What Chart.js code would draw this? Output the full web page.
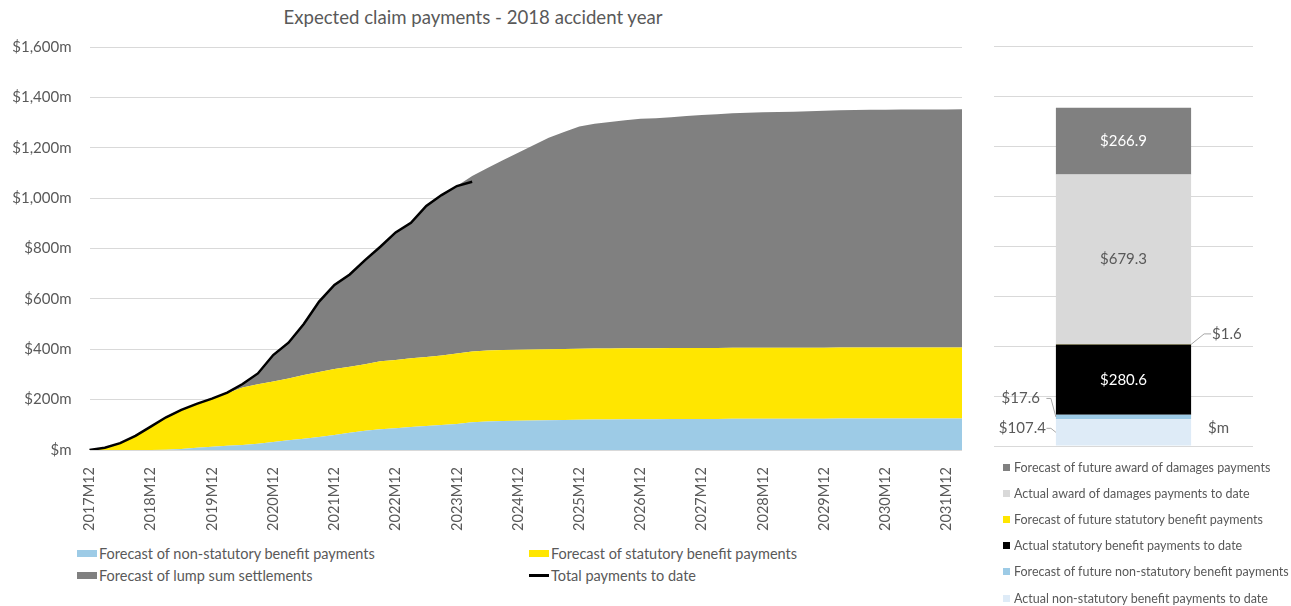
<!DOCTYPE html>
<html><head><meta charset="utf-8">
<script src="https://cdn.jsdelivr.net/npm/chart.js@4.4.1/dist/chart.umd.min.js"></script>
<style>
html,body{margin:0;padding:0;background:#fff;width:1291px;height:606px;overflow:hidden;font-family:Lato,"Noto Sans",sans-serif;color:#595959}
#title{position:absolute;left:0;width:946px;top:6px;text-align:center;font-size:18.6px;line-height:22px}
#left{position:absolute;left:0;top:0}
#right{position:absolute;left:980px;top:0}
#legL{position:absolute;left:77px;top:542px;display:grid;grid-template-columns:452px 400px;font-size:14.5px}
.li{display:flex;align-items:center;height:22px;white-space:nowrap}
.sw{width:20px;height:7px;margin-right:2px;flex:none}
.ln{width:20px;height:3px;margin-right:2px;flex:none}
#legR{position:absolute;left:1003px;top:454px;font-size:12.5px}
.ri{display:flex;align-items:center;height:26.2px;white-space:nowrap}
.sq{width:7px;height:7px;margin-right:4px;flex:none}
</style></head>
<body>
<div id="title">Expected claim payments - 2018 accident year</div>
<canvas id="left" width="980" height="540"></canvas>
<canvas id="right" width="311" height="460"></canvas>
<div id="legL"></div>
<div id="legR"></div>
<script>
// ---- Data ----
const quarters = ["2017M12","2018M03","2018M06","2018M09","2018M12","2019M03","2019M06","2019M09","2019M12",
"2020M03","2020M06","2020M09","2020M12","2021M03","2021M06","2021M09","2021M12","2022M03","2022M06","2022M09","2022M12",
"2023M03","2023M06","2023M09","2023M12","2024M03","2024M06","2024M09","2024M12","2025M03","2025M06","2025M09","2025M12",
"2026M03","2026M06","2026M09","2026M12","2027M03","2027M06","2027M09","2027M12","2028M03","2028M06","2028M09","2028M12",
"2029M03","2029M06","2029M09","2029M12","2030M03","2030M06","2030M09","2030M12","2031M03","2031M06","2031M09","2031M12","2032M03"];

const nonStatutory = [0,0,0,0,0,1,4,9,13,17, 20,25,32,39,45,52,60,68,76,82, 86,91,95,99,103,110,113,115,116,117,
 118,119,120,121,121,122,122,122,123,123, 123,123,124,124,124,124,124,124,124,125, 125,125,125,125,125,125,125,125];
const statutory = [0,9,27,56,93,129,155,174,191,208, 228,236,240,245,253,258,262,263,264,270, 271,273,274,276,280,281,282,282,282,282,
 282,282,282,282,282,282,282,282,282,282, 282,282,282,282,282,282,282,282,282,282, 282,282,282,282,282,282,282,282];
const lumpSum = [0,0,0,0,0,0,0,0,0,3, 14,43,105,142,202,279,333,366,414,455, 507,538,600,637,665,697,725,753,782,811,
 840,862,882,892,899,905,911,913,916,921, 925,928,931,933,935,936,937,939,941,942, 943,944,944,945,945,945,945,946];
const totalToDate = [0,9,27,56,93,130,159,183,204,228,262,304,377,426,500,589,655,697,754,807,864,902,969,1012,1048,1065];

const yTicks = [0,200,400,600,800,1000,1200,1400,1600];

const barLabels = ["Actual non-statutory benefit payments to date","Forecast of future non-statutory benefit payments",
 "Actual statutory benefit payments to date","Forecast of future statutory benefit payments",
 "Actual award of damages payments to date","Forecast of future award of damages payments"];
const barValues = [107.4, 17.6, 280.6, 1.6, 679.3, 266.9];
const barUnit = "$m";

// ---- Styles ----
const TXT = '#595959', GRID = '#d9d9d9';
const FONT = 'Lato, "Noto Sans", sans-serif';
const C_BLUE = '#9dcbe6', C_YEL = '#ffe600', C_GRAY = '#808080';
const barColors = ['#deebf7', C_BLUE, '#000000', C_YEL, '#d9d9d9', C_GRAY];
const barLabelMode = ['left', 'left', 'inside', 'right', 'inside', 'inside'];
const barLabelColor = [TXT, TXT, '#ffffff', TXT, TXT, '#ffffff'];

const fmtM = v => v === 0 ? '$m' : '$' + v.toLocaleString('en-US') + 'm';

// ---- Left chart ----
const leftChart = new Chart(document.getElementById('left'), {
  type: 'line',
  data: {
    labels: quarters,
    datasets: [
      {label:'Forecast of non-statutory benefit payments', data:nonStatutory, backgroundColor:C_BLUE, borderColor:C_BLUE, borderWidth:0, fill:'origin', pointRadius:0, tension:0, yAxisID:'y'},
      {label:'Forecast of statutory benefit payments', data:statutory, backgroundColor:C_YEL, borderColor:C_YEL, borderWidth:0, fill:'-1', pointRadius:0, tension:0, yAxisID:'y'},
      {label:'Forecast of lump sum settlements', data:lumpSum, backgroundColor:C_GRAY, borderColor:C_GRAY, borderWidth:0, fill:'-1', pointRadius:0, tension:0, yAxisID:'y'},
      {label:'Total payments to date', data:totalToDate, borderColor:'#000', backgroundColor:'#000', borderWidth:2.5, fill:false, pointRadius:0, tension:0, yAxisID:'y2', order:-1, isLine:true}
    ]
  },
  options: {
    responsive:false, animation:false, devicePixelRatio:1,
    layout:{padding:{top:47, right:18, left:0, bottom:0}},
    plugins:{legend:{display:false}, tooltip:{enabled:false}, title:{display:false}},
    scales:{
      x:{type:'category', offset:false, grid:{display:false}, border:{display:false},
         ticks:{autoSkip:false, maxRotation:90, minRotation:90, padding:9, color:TXT, font:{family:FONT, size:14.5},
           callback:function(v, i){ return i % 4 === 0 ? this.getLabelForValue(v) : null; }},
         afterFit:s=>{s.height = 90;}},
      y:{stacked:true, min:0, max:1600, grid:{color:GRID, drawTicks:false, lineWidth:1}, border:{display:false},
         afterBuildTicks:s=>{s.ticks = yTicks.map(v=>({value:v}));},
         ticks:{padding:18, color:TXT, font:{family:FONT, size:15}, callback:v=>fmtM(v)},
         afterFit:s=>{s.width = 89.5;}},
      y2:{display:false, min:0, max:1600, stacked:false}
    }
  }
});

// ---- Right chart ----
const barLabelPlugin = {
  id:'barLabels',
  afterDatasetsDraw(chart){
    const ctx = chart.ctx;
    ctx.save();
    ctx.font = '15px ' + FONT;
    ctx.textBaseline = 'middle';
    ctx.lineWidth = 1;
    ctx.strokeStyle = '#a6a6a6';
    let left = 0, right = 0, bottom = 0;
    chart.data.datasets.forEach((ds, i) => {
      const el = chart.getDatasetMeta(i).data[0];
      const p = el.getProps(['x','y','base','width'], true);
      const l = p.x - p.width/2, r = p.x + p.width/2, mid = (p.y + p.base)/2;
      left = l; right = r; bottom = Math.max(bottom, p.base);
      const txt = '$' + ds.data[0].toFixed(1);
      ctx.fillStyle = barLabelColor[i];
      const mode = barLabelMode[i];
      if (mode === 'inside') {
        ctx.textAlign = 'center';
        ctx.fillText(txt, p.x, mid);
      } else if (mode === 'right') {
        const ty = mid - 10.5;
        ctx.beginPath(); ctx.moveTo(r, mid); ctx.lineTo(r + 13, ty); ctx.lineTo(r + 20, ty); ctx.stroke();
        ctx.textAlign = 'left';
        ctx.fillText(txt, r + 21, ty);
      } else {
        const ty = i === 0 ? mid - 4 : mid - 18.5;
        ctx.beginPath(); ctx.moveTo(l, mid); ctx.lineTo(l - 5, ty); ctx.lineTo(l - 9.5, ty); ctx.stroke();
        ctx.textAlign = 'right';
        ctx.fillText(txt, l - (i === 0 ? 10 : 16), ty);
      }
    });
    ctx.fillStyle = TXT;
    ctx.textAlign = 'left';
    ctx.fillText(barUnit, right + 17, bottom - 17);
    ctx.restore();
  }
};

const rightChart = new Chart(document.getElementById('right'), {
  type:'bar',
  data:{
    labels:[''],
    datasets: barLabels.map((lab, i) => ({label:lab, data:[barValues[i]], backgroundColor:barColors[i], borderWidth:0,
      categoryPercentage:1, barPercentage:0.522}))
  },
  options:{
    responsive:false, animation:false, devicePixelRatio:1,
    layout:{padding:{top:46, right:38, left:14, bottom:14}},
    plugins:{legend:{display:false}, tooltip:{enabled:false}},
    scales:{
      x:{stacked:true, display:false},
      y:{stacked:true, min:0, max:1600, grid:{color:GRID, drawTicks:false}, border:{display:false},
         afterBuildTicks:s=>{s.ticks = yTicks.map(v=>({value:v}));},
         ticks:{display:false}, afterFit:s=>{s.width = 0;}}
    }
  },
  plugins:[barLabelPlugin]
});

// ---- HTML legends built from the charts' datasets ----
const legL = document.getElementById('legL');
leftChart.data.datasets.forEach(ds => {
  const d = document.createElement('div'); d.className = 'li';
  const s = document.createElement('span'); s.className = ds.isLine ? 'ln' : 'sw'; s.style.background = ds.isLine ? ds.borderColor : ds.backgroundColor;
  d.appendChild(s); d.appendChild(document.createTextNode(ds.label)); legL.appendChild(d);
});
const legR = document.getElementById('legR');
rightChart.data.datasets.slice().reverse().forEach(ds => {
  const d = document.createElement('div'); d.className = 'ri';
  const s = document.createElement('span'); s.className = 'sq'; s.style.background = ds.backgroundColor;
  d.appendChild(s); d.appendChild(document.createTextNode(ds.label)); legR.appendChild(d);
});
</script>
</body></html>
